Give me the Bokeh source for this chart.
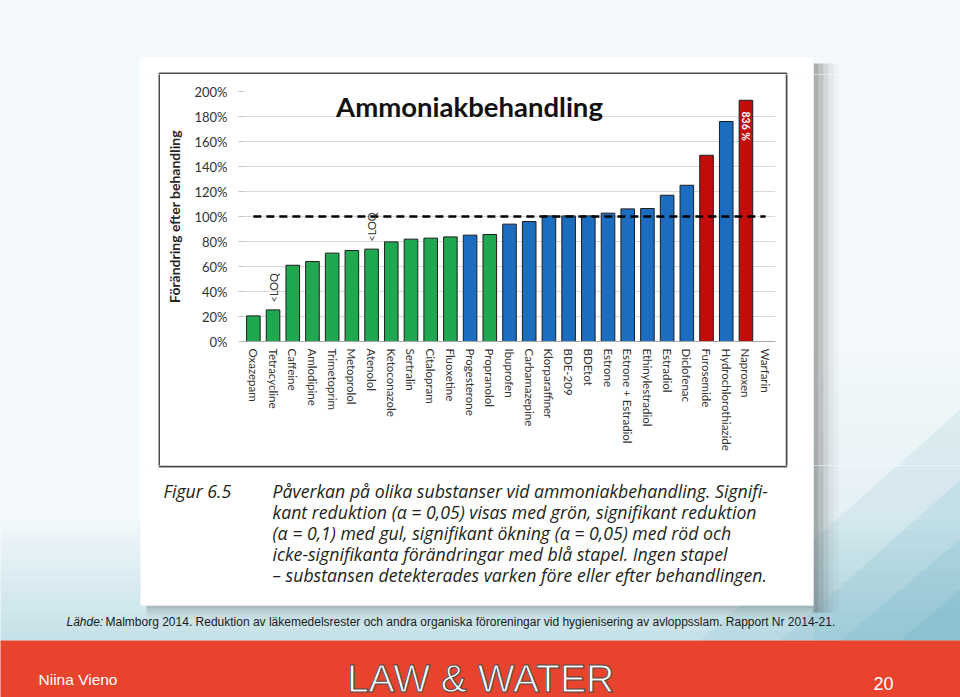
import math
from bokeh.plotting import figure
from bokeh.layouts import column, row
from bokeh.models import Range1d, Label, FixedTicker, ColumnDataSource
from bokeh.core.properties import value
from bokeh.embed import file_html
from bokeh.resources import INLINE

# ---------------- data ----------------
substances = ["Oxazepam", "Tetracycline", "Caffeine", "Amlodipine", "Trimetoprim",
              "Metoprolol", "Atenolol", "Ketoconazole", "Sertralin", "Citalopram",
              "Fluoxetine", "Progesterone", "Propranolol", "Ibuprofen", "Carbamazepine",
              "Klorparaffiner", "BDE-209", "BDEtot", "Estrone", "Estrone + Estradiol",
              "Ethinylestradiol", "Estradiol", "Diclofenac", "Furosemide",
              "Hydrochlorothiazide", "Naproxen", "Warfarin"]
change_pct = [20.5, 25.3, 61, 64, 70.7, 72.8, 73.9, 79.7, 81.9, 82.7, 83.7, 85.1,
              85.6, 93.9, 96, 100.5, 100.5, 100.5, 102.7, 106.1, 106.4, 117, 125,
              149, 176, 836, None]
significance = ["reduction"] * 11 + ["ns", "reduction"] + ["ns"] * 10 + \
               ["increase", "ns", "increase", "none"]
loq_substances = ["Tetracycline", "Atenolol"]
y_ticks = [0, 20, 40, 60, 80, 100, 120, 140, 160, 180, 200]
y_tick_labels = ["0%", "20%", "40%", "60%", "80%", "100%", "120%", "140%", "160%",
                 "180%", "200%"]
reference_level = 100
chart_title = "Ammoniakbehandling"
y_title = "Förändring efter behandling"
caption_head = "Figur 6.5"
caption_lines = [
    "Påverkan på olika substanser vid ammoniakbehandling. Signifi-",
    "kant reduktion (α = 0,05) visas med grön, signifikant reduktion",
    "(α = 0,1) med gul, signifikant ökning (α = 0,05) med röd och",
    "icke-signifikanta förändringar med blå stapel. Ingen stapel",
    "– substansen detekterades varken före eller efter behandlingen.",
]
source_lead = "Lähde:"
source_text = ("Malmborg 2014. Reduktion av läkemedelsrester och andra organiska "
               "föroreningar vid hygienisering av avloppsslam. Rapport Nr 2014-21.")
footer_left = "Niina Vieno"
footer_center = "LAW & WATER"
footer_right = "20"

palette = {"reduction": "#1fa84f", "ns": "#1c6dc0", "increase": "#c30d0d"}
Y_MAX = 200
BREAK_AT = 193   # bars above the axis are cut here

n = len(substances)
pos = list(range(n))

# ---------------- page geometry (pixels) ----------------
W, H = 960, 697
CH = (160, 74, 785, 465)          # region of the chart figure
FRAME = (243, 91, 775, 341)       # plot area inside it
PIC = (140, 57, 813, 605)         # white picture on the slide

# ---------------- chart figure ----------------
p = figure(width=CH[2] - CH[0], height=CH[3] - CH[1], output_backend="svg",
           toolbar_location=None,
           x_range=Range1d(-0.5, n - 0.5), y_range=Range1d(0, Y_MAX),
           min_border_left=FRAME[0] - CH[0], min_border_right=CH[2] - FRAME[2],
           min_border_top=FRAME[1] - CH[1], min_border_bottom=CH[3] - FRAME[3])
p.frame_align = False
p.border_fill_color = "white"
p.background_fill_color = "white"
p.outline_line_color = None

p.yaxis.ticker = FixedTicker(ticks=y_ticks)
p.yaxis.major_label_overrides = dict(zip(y_ticks, y_tick_labels))
p.yaxis.axis_line_color = None
p.yaxis.major_tick_line_color = "#bfbfbf"
p.yaxis.major_tick_out = 5
p.yaxis.major_tick_in = 0
p.yaxis.minor_tick_line_color = None
p.yaxis.major_label_standoff = 11
p.yaxis.major_label_text_font = "Lato"
p.yaxis.major_label_text_font_size = "13px"
p.yaxis.major_label_text_color = "#333333"
p.yaxis.axis_label = y_title
p.yaxis.axis_label_text_font = "Lato"
p.yaxis.axis_label_text_font_style = "bold"
p.yaxis.axis_label_text_font_size = "14px"
p.yaxis.axis_label_text_color = "#262626"
p.yaxis.axis_label_standoff = 8

p.xaxis.ticker = FixedTicker(ticks=pos)
p.xaxis.major_label_overrides = dict(zip(pos, substances))
p.xaxis.major_label_orientation = "vertical"
p.xaxis.axis_line_color = "#a6a6a6"
p.xaxis.major_tick_line_color = None
p.xaxis.minor_tick_line_color = None
p.xaxis.major_tick_out = 0
p.xaxis.major_tick_in = 0
p.xaxis.major_label_standoff = 7
p.xaxis.major_label_text_font = "Lato"
p.xaxis.major_label_text_font_size = "11.5px"
p.xaxis.major_label_text_color = "#333333"

p.ygrid.ticker = FixedTicker(ticks=y_ticks)
p.ygrid.grid_line_color = "#d9d9d9"
p.xgrid.grid_line_color = None

bx, btop, bcol = [], [], []
for i, (v, g) in enumerate(zip(change_pct, significance)):
    if v is None:
        continue
    bx.append(i)
    btop.append(min(v, BREAK_AT))
    bcol.append(palette[g])
src = ColumnDataSource(dict(x=bx, top=btop, color=bcol))
p.vbar(x="x", top="top", width=0.69, bottom=0, fill_color="color",
       line_color="#1e1e1e", line_width=1, source=src)

p.line(x=[pos[0], pos[-1]], y=[reference_level, reference_level],
       line_color="black", line_width=2.5, line_dash="8 5")

loq_x = [substances.index(s) for s in loq_substances]
loq_y = [change_pct[i] + 6 for i in loq_x]
p.text(x=loq_x, y=loq_y, text=["<LOQ"] * len(loq_x),
       angle=math.pi / 2, text_font=value("Lato"), text_font_size="11px",
       text_align="left", text_baseline="middle", text_color="#333333")

over = [(i, v) for i, v in enumerate(change_pct) if v is not None and v > Y_MAX]
p.text(x=[i for i, v in over], y=[BREAK_AT - 9 for i, v in over],
       text=[f"{v:.0f} %" for i, v in over], angle=-math.pi / 2,
       text_font=value("Lato"), text_font_style="bold", text_font_size="10.5px",
       text_align="left", text_baseline="middle", text_color="white")

p.add_layout(Label(x=469 - CH[0], y=106 - CH[1], x_units="canvas", y_units="canvas",
                   text=chart_title, text_font="Lato", text_font_size="27.5px",
                   text_font_style="bold", text_color="#111111",
                   text_align="center", text_baseline="middle"))


# ---------------- slide decoration (page pixel coordinates) ----------------
def decorate(f, region):
    x0, y0, x1, y1 = region
    f.quad(left=[-10], right=[W + 10], top=[-10], bottom=[H + 10],
           fill_color="#f4f9fb", line_color=None)
    ys = list(range(520, 640, 10))
    f.quad(left=-10, right=W + 10, top=ys, bottom=[y + 10 for y in ys],
           fill_color="#86c0cf", fill_alpha=[0.04 + k * 0.035 for k in range(len(ys))],
           line_color=None)
    ys2 = list(range(330, 650, 20))
    f.quad(left=PIC[2], right=W + 10, top=ys2, bottom=[y + 20 for y in ys2],
           fill_color="#86c0cf", fill_alpha=[0.015 * k for k in range(len(ys2))],
           line_color=None)
    for (ax, ay), a in zip([(700, 400), (780, 470), (840, 530), (900, 580)],
                           [0.12, 0.14, 0.16, 0.18]):
        f.patch(x=[ax, W + 10, W + 10], y=[640, ay, 640], fill_color="#5fa9bf",
                fill_alpha=a, line_color=None)
    # picture shadow
    sa = [0.45, 0.32, 0.2, 0.1, 0.04]
    f.quad(left=[PIC[2] + k * 5 for k in range(5)],
           right=[PIC[2] + 5 + k * 5 for k in range(5)],
           top=PIC[1] + 6, bottom=PIC[3] + 7, fill_color="#555555", fill_alpha=sa,
           line_color=None)
    sb = [0.3, 0.2, 0.12, 0.06, 0.03]
    f.quad(left=PIC[0] + 6, right=PIC[2], top=[PIC[3] + k * 3 for k in range(5)],
           bottom=[PIC[3] + 3 + k * 3 for k in range(5)], fill_color="#555555",
           fill_alpha=sb, line_color=None)
    # picture
    f.quad(left=[PIC[0]], right=[PIC[2]], top=[PIC[1]], bottom=[PIC[3]],
           fill_color="white", line_color=None)
    # footer band
    f.quad(left=[-10], right=[W + 10], top=[640], bottom=[H + 10],
           fill_color="#e8432d", line_color=None)
    # chart border
    f.quad(left=[CH[0] - 1], right=[CH[2] + 1], top=[CH[1] - 1], bottom=[CH[3] + 1],
           fill_color=None, line_color="#4d4d4d", line_width=2)

    def txt(x, y, t, font="Open Sans", size="17.7px", style="normal", color="#231f20",
            align="left", baseline="middle", **kw):
        if not (x0 <= x < x1 and y0 <= y < y1):
            return
        f.text(x=[x], y=[y], text=[t], text_font=value(font), text_font_size=size,
               text_font_style=style, text_color=color, text_align=align,
               text_baseline=baseline, **kw)

    txt(163, 490, caption_head, style="italic")
    for k, line in enumerate(caption_lines):
        txt(272, 490 + k * 21.2, line, style="italic")
    txt(66, 621, source_lead, font="Liberation Sans", size="12px",
        style="italic", color="#1a1a1a")
    txt(105, 621, source_text, font="Liberation Sans", size="12px",
        color="#1a1a1a")
    txt(38, 679, footer_left, font="Liberation Sans", size="15.5px", color="white")
    txt(883, 683, footer_right, font="Liberation Sans", size="18px",
        color="white", align="center")
    txt(480, 678, footer_center, font="Liberation Sans", size="39px", color="white",
        align="center", text_outline_color="#4a4a4a")


def deco_fig(region):
    x0, y0, x1, y1 = region
    f = figure(width=x1 - x0, height=y1 - y0, x_range=Range1d(x0, x1),
               y_range=Range1d(y1, y0), min_border=0, toolbar_location=None,
               output_backend="svg", x_axis_location=None, y_axis_location=None)
    f.frame_align = False
    f.outline_line_color = None
    f.grid.visible = False
    f.border_fill_color = "#f4f9fb"
    f.background_fill_color = "#f4f9fb"
    decorate(f, region)
    return f


top_f = deco_fig((0, 0, W, CH[1]))
left_f = deco_fig((0, CH[1], CH[0], CH[3]))
right_f = deco_fig((CH[2], CH[1], W, CH[3]))
bottom_f = deco_fig((0, CH[3], W, H))

layout = column(top_f, row(left_f, p, right_f), bottom_f)

open("out.html", "w").write(file_html(layout, INLINE))
